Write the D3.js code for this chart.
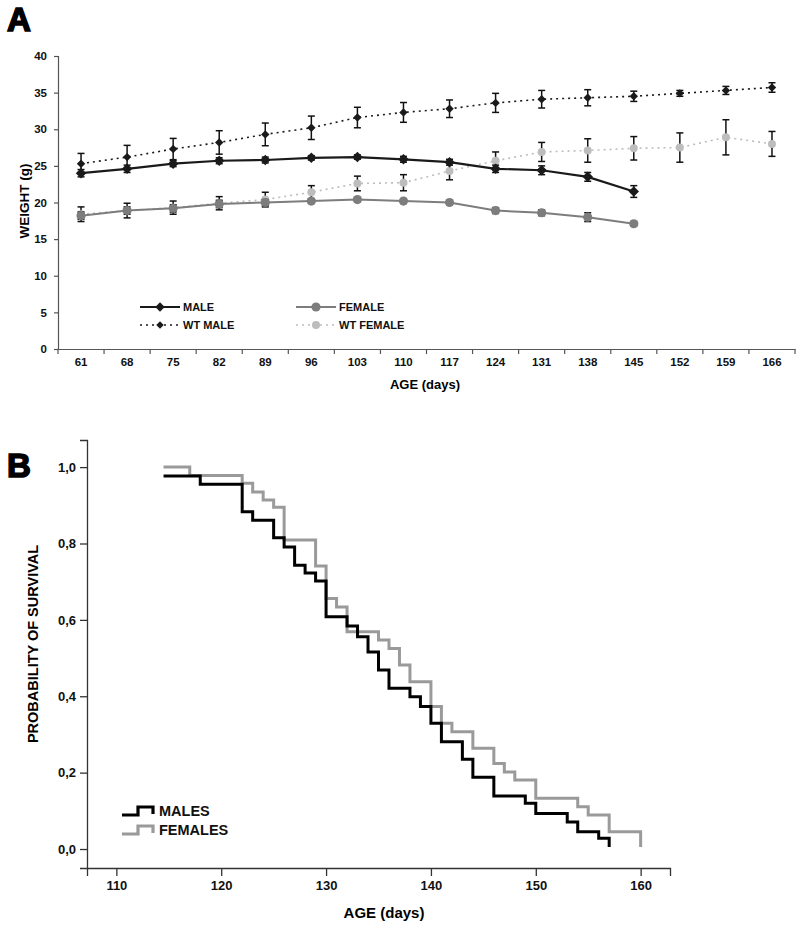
<!DOCTYPE html>
<html>
<head>
<meta charset="utf-8">
<script src="https://cdn.jsdelivr.net/npm/d3@7"></script>
<style>
  body { margin: 0; background: #fff; }
  svg { display: block; font-family: "Liberation Sans", Arial, sans-serif; }
</style>
</head>
<body>
<svg id="fig" width="800" height="930"></svg>
<script>
// ---- panel A : body weight ----
var ages = [61, 68, 75, 82, 89, 96, 103, 110, 117, 124, 131, 138, 145, 152, 159, 166];
var maleW = [24.0, 24.6, 25.3, 25.7, 25.8, 26.1, 26.2, 25.9, 25.5, 24.6, 24.4, 23.5, 21.5];
var maleErr = [0.5, 0.5, 0.4, 0.4, 0.4, 0.3, 0.3, 0.4, 0.4, 0.5, 0.6, 0.6, 0.8];
var wtMaleW = [25.3, 26.2, 27.3, 28.2, 29.3, 30.2, 31.6, 32.3, 32.8, 33.6, 34.1, 34.3, 34.5, 34.9, 35.3, 35.7];
var wtMaleErr = [1.4, 1.6, 1.45, 1.6, 1.55, 1.6, 1.4, 1.35, 1.2, 1.3, 1.2, 1.1, 0.7, 0.4, 0.55, 0.65];
var femaleW = [18.2, 18.9, 19.2, 19.8, 20.0, 20.2, 20.4, 20.2, 20.0, 18.9, 18.6, 18.0, 17.1];
var femaleErr = [0.5, 0.5, 0.5, 0.5, 0.4, 0.3, 0.3, 0.3, 0.3, 0.4, 0.4, 0.6, 0.3];
var wtFemaleW = [18.4, 18.9, 19.3, 19.9, 20.4, 21.4, 22.6, 22.7, 24.3, 25.7, 26.9, 27.1, 27.4, 27.5, 28.9, 28.0];
var wtFemaleErr = [1.0, 1.0, 0.9, 0.9, 1.0, 0.9, 1.0, 1.1, 1.2, 1.2, 1.3, 1.6, 1.6, 2.0, 2.4, 1.7];
var weightTicks = [0, 5, 10, 15, 20, 25, 30, 35, 40];

// ---- panel B : survival (Kaplan-Meier steps) ----
var maleT = [114.5, 118, 122, 123, 125, 126, 127, 128, 129, 130, 132, 133, 134, 135, 136, 138, 139, 140, 141, 143, 144, 146, 149, 150, 153, 154, 156, 157];
var maleS = [0.977, 0.955, 0.883, 0.861, 0.815, 0.791, 0.743, 0.723, 0.702, 0.608, 0.584, 0.556, 0.516, 0.469, 0.421, 0.399, 0.373, 0.329, 0.281, 0.235, 0.188, 0.139, 0.120, 0.093, 0.071, 0.045, 0.028, 0.005];
var femaleT = [114.5, 117, 122, 123, 124, 125, 126, 129, 130, 131, 132, 135, 136, 137, 138, 140, 141, 142, 144, 146, 147, 148, 150, 154, 155, 157, 160];
var femaleS = [1.0, 0.978, 0.958, 0.935, 0.914, 0.895, 0.809, 0.741, 0.656, 0.634, 0.569, 0.547, 0.525, 0.482, 0.438, 0.373, 0.329, 0.307, 0.264, 0.224, 0.202, 0.181, 0.133, 0.111, 0.089, 0.045, 0.005];
var survTicks = [0, 0.2, 0.4, 0.6, 0.8, 1.0];
var dayTicks = [110, 120, 130, 140, 150, 160];

var svg = d3.select("#fig");

// panel letters
svg.append("text").attr("x", 7).attr("y", 31).text("A")
    .style("font-size", "33px").style("font-weight", "900")
    .attr("stroke", "#000").attr("stroke-width", 1.6);
svg.append("text").attr("x", 7).attr("y", 477).text("B")
    .style("font-size", "33px").style("font-weight", "900")
    .attr("stroke", "#000").attr("stroke-width", 1.6);

// ================= panel A =================
var xA = d3.scaleBand().domain(ages).range([58, 795]);
var yA = d3.scaleLinear().domain([0, 40]).range([349, 56]);
var gA = svg.append("g");

var yAxA = gA.append("g").attr("transform", "translate(58,0)")
    .call(d3.axisLeft(yA).tickValues(weightTicks).tickSize(4).tickPadding(7));
var xAxA = gA.append("g").attr("transform", "translate(0,349)")
    .call(d3.axisBottom(xA).tickSize(0).tickPadding(9));
[yAxA, xAxA].forEach(function(ax) {
    ax.selectAll("path, line").attr("stroke", "#555").attr("stroke-width", 1.2);
    ax.selectAll("text").style("font-size", "11.5px").style("font-weight", "bold").attr("fill", "#111");
});
// tick marks sit on the category boundaries
gA.append("g").selectAll("line")
    .data(ages.map(a => xA(a)).concat([xA.range()[1]]))
    .join("line")
    .attr("x1", d => d).attr("x2", d => d)
    .attr("y1", 349).attr("y2", 354)
    .attr("stroke", "#555").attr("stroke-width", 1.2);

gA.append("text").attr("transform", "translate(29,201) rotate(-90)")
    .attr("text-anchor", "middle").text("WEIGHT (g)")
    .style("font-size", "13.5px").style("font-weight", "bold");
gA.append("text").attr("x", 425).attr("y", 389).attr("text-anchor", "middle")
    .text("AGE (days)").style("font-size", "13px").style("font-weight", "bold");

function seriesA(vals, errs) {
    return vals.map((v, i) => ({ age: ages[i], v: v, e: errs[i] }));
}
var cx = d => xA(d.age) + xA.bandwidth() / 2;

var seriesDefs = [
    { data: seriesA(wtFemaleW, wtFemaleErr), color: "#bdbdbd", width: 1.6, dash: "2,4", marker: "circle", size: 4 },
    { data: seriesA(femaleW, femaleErr), color: "#7d7d7d", width: 2, dash: null, marker: "circle", size: 4.6 },
    { data: seriesA(wtMaleW, wtMaleErr), color: "#1a1a1a", width: 1.6, dash: "2,4", marker: "diamond", size: 45 },
    { data: seriesA(maleW, maleErr), color: "#1a1a1a", width: 2.2, dash: null, marker: "diamond", size: 70 }
];

var line = d3.line().x(cx).y(d => yA(d.v));

seriesDefs.forEach(function(s) {
    var g = gA.append("g");
    // error bars
    var eb = g.append("g").selectAll("g").data(s.data).join("g");
    eb.append("line").attr("x1", cx).attr("x2", cx)
        .attr("y1", d => yA(d.v - d.e)).attr("y2", d => yA(d.v + d.e))
        .attr("stroke", "#111").attr("stroke-width", 1.5);
    eb.append("line").attr("x1", d => cx(d) - 3.5).attr("x2", d => cx(d) + 3.5)
        .attr("y1", d => yA(d.v + d.e)).attr("y2", d => yA(d.v + d.e))
        .attr("stroke", "#111").attr("stroke-width", 1.5);
    eb.append("line").attr("x1", d => cx(d) - 3.5).attr("x2", d => cx(d) + 3.5)
        .attr("y1", d => yA(d.v - d.e)).attr("y2", d => yA(d.v - d.e))
        .attr("stroke", "#111").attr("stroke-width", 1.5);
    g.append("path").datum(s.data).attr("d", line)
        .attr("fill", "none").attr("stroke", s.color).attr("stroke-width", s.width)
        .attr("stroke-dasharray", s.dash);
    if (s.marker === "circle") {
        g.append("g").selectAll("circle").data(s.data).join("circle")
            .attr("cx", cx).attr("cy", d => yA(d.v)).attr("r", s.size).attr("fill", s.color);
    } else {
        g.append("g").selectAll("path").data(s.data).join("path")
            .attr("transform", d => `translate(${cx(d)},${yA(d.v)})`)
            .attr("d", d3.symbol(d3.symbolDiamond2, s.size)).attr("fill", s.color);
    }
});

// legend A
var legA = [
    { label: "MALE", x: 140, y: 307, def: seriesDefs[3] },
    { label: "WT MALE", x: 140, y: 325, def: seriesDefs[2] },
    { label: "FEMALE", x: 296, y: 307, def: seriesDefs[1] },
    { label: "WT FEMALE", x: 296, y: 325, def: seriesDefs[0] }
];
legA.forEach(function(l) {
    var g = gA.append("g").attr("transform", `translate(${l.x},${l.y})`);
    g.append("line").attr("x1", 0).attr("x2", 40).attr("stroke", l.def.color)
        .attr("stroke-width", l.def.width).attr("stroke-dasharray", l.def.dash);
    if (l.def.marker === "circle") g.append("circle").attr("cx", 20).attr("r", l.def.size).attr("fill", l.def.color);
    else g.append("path").attr("transform", "translate(20,0)")
        .attr("d", d3.symbol(d3.symbolDiamond2, l.def.size * 0.8)).attr("fill", l.def.color);
    g.append("text").attr("x", 43).attr("y", 4).text(l.label)
        .style("font-size", "11px").style("font-weight", "bold").attr("fill", "#111");
});

// ================= panel B =================
var xB = d3.scaleLinear().domain([107.2, 162.8]).range([87, 670]);
var yB = d3.scaleLinear().domain([-0.0497, 1.071]).range([868, 440]);
var gB = svg.append("g");

var yAxB = gB.append("g").attr("transform", "translate(87,0)")
    .call(d3.axisLeft(yB).tickValues(survTicks).tickSize(7).tickPadding(4)
        .tickFormat(d => d3.format(".1f")(d).replace(".", ",")));
var xAxB = gB.append("g").attr("transform", "translate(0,868)")
    .call(d3.axisBottom(xB).tickValues(dayTicks).tickSize(8).tickPadding(5));
[yAxB, xAxB].forEach(function(ax) {
    ax.selectAll("path, line").attr("stroke", "#333").attr("stroke-width", 1.3);
    ax.selectAll("text").style("font-size", "13px").style("font-weight", "bold").attr("fill", "#111");
});

gB.append("text").attr("transform", "translate(38,644) rotate(-90)")
    .attr("text-anchor", "middle").text("PROBABILITY OF SURVIVAL")
    .style("font-size", "14.5px").style("font-weight", "bold");
gB.append("text").attr("x", 384).attr("y", 918).attr("text-anchor", "middle")
    .text("AGE (days)").style("font-size", "15px").style("font-weight", "bold");

var step = d3.line().x(d => xB(d[0])).y(d => yB(d[1])).curve(d3.curveStepAfter);
var survDefs = [
    { t: femaleT, s: femaleS, color: "#9a9a9a", label: "FEMALES" },
    { t: maleT, s: maleS, color: "#000", label: "MALES" }
];
survDefs.forEach(function(c) {
    gB.append("path").datum(c.t.map((t, i) => [t, c.s[i]]))
        .attr("d", step).attr("fill", "none")
        .attr("stroke", c.color).attr("stroke-width", 3).attr("stroke-linejoin", "miter");
});

// legend B
[{ def: survDefs[1], y: 811 }, { def: survDefs[0], y: 830 }].forEach(function(l) {
    var g = gB.append("g").attr("transform", `translate(122,${l.y})`);
    g.append("path").attr("d", "M0,4H16V-4H31V3").attr("fill", "none")
        .attr("stroke", l.def.color).attr("stroke-width", 3.2);
    g.append("text").attr("x", 37).attr("y", 5).text(l.def.label)
        .style("font-size", "14.5px").style("font-weight", "bold").attr("fill", "#111");
});
</script>
</body>
</html>
